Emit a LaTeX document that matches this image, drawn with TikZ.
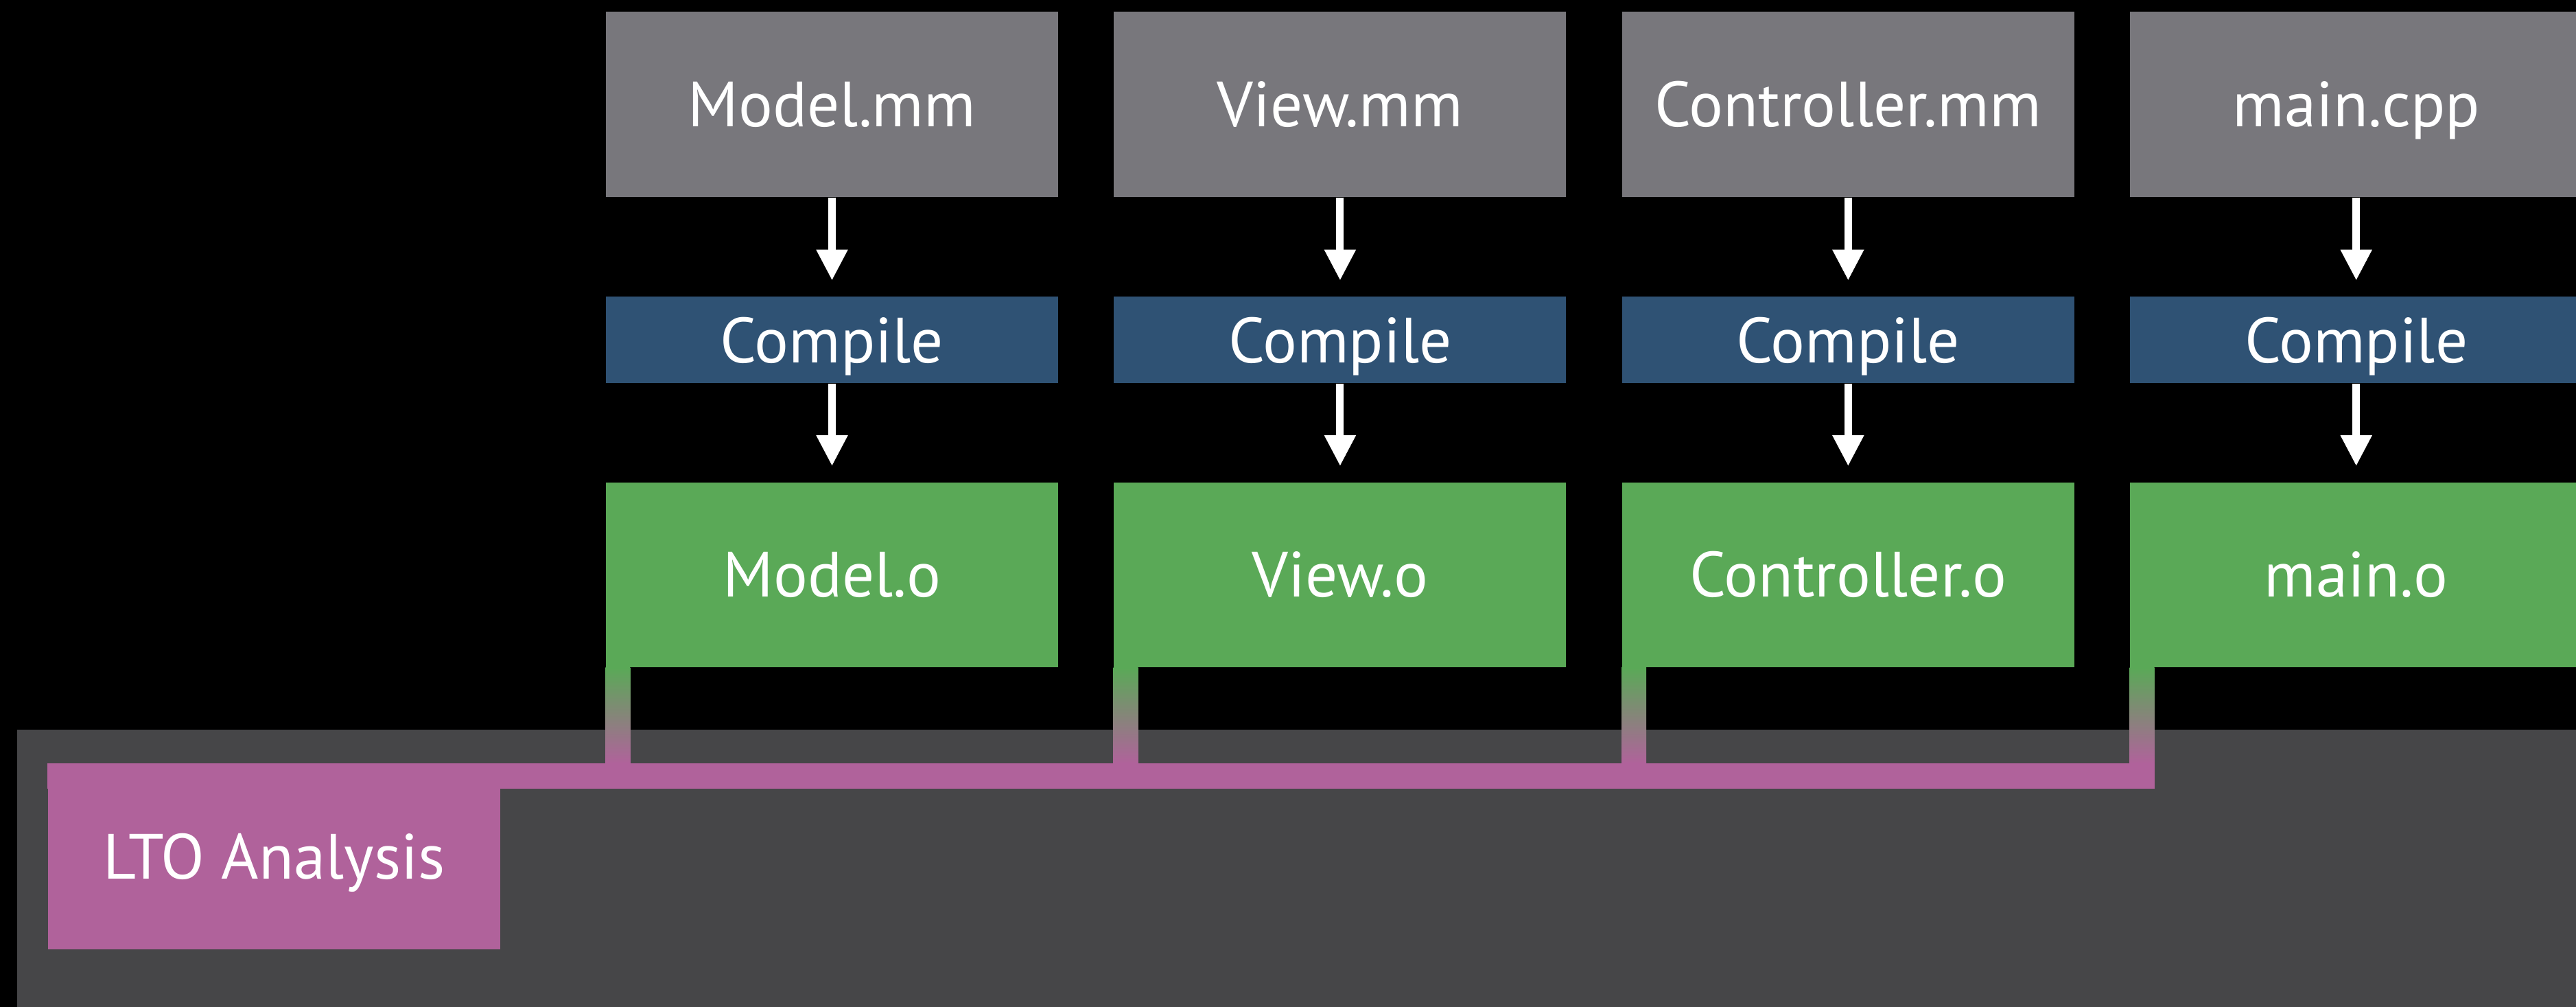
\documentclass[tikz,border=0pt]{standalone}
\usepackage{fontspec}
\setmainfont{PT Sans}
\usepackage{tikz}
\usetikzlibrary{arrows.meta,calc,positioning}

\definecolor{srcgray}{HTML}{78777C}
\definecolor{ccblue}{HTML}{2F5274}
\definecolor{objgreen}{HTML}{5AA957}
\definecolor{ltopink}{HTML}{B0629B}
\definecolor{panelgray}{HTML}{464648}

\begin{document}
\begin{tikzpicture}[
  font=\fontsize{26.5pt}{30pt}\selectfont,
  node distance=1.44cm and 0.8cm,
  box/.style={inner sep=0pt, text=white, minimum width=6.59cm, text height=0.652cm, text depth=0pt},
  src/.style={box, fill=srcgray, minimum height=2.70cm},
  cc/.style={box, fill=ccblue, minimum height=1.26cm},
  obj/.style={box, fill=objgreen, minimum height=2.69cm},
  lto/.style={box, fill=ltopink, minimum height=2.70cm},
  arrow/.style={-{Triangle[width=4.3mm, length=4.5mm]}, line width=1.1mm, white, shorten >=2.3mm},
  link/.style={top color=objgreen, bottom color=ltopink}
]
\clip (0,0) rectangle (37.54,-14.67);
\fill[black] (0,0) rectangle (37.54,-14.67);
\fill[panelgray] (0.25,-10.63) rectangle (37.54,-14.67);

\node[src] (modelsrc) at (12.125,-1.52) {Model.mm};
\node[src, right=of modelsrc] (viewsrc) {View.mm};
\node[src, right=of viewsrc] (ctrlsrc) {Controller.mm};
\node[src, right=of ctrlsrc] (mainsrc) {main.cpp};

\node[cc, below=of modelsrc] (modelcc) {Compile};
\node[cc, below=of viewsrc] (viewcc) {Compile};
\node[cc, below=of ctrlsrc] (ctrlcc) {Compile};
\node[cc, below=of mainsrc] (maincc) {Compile};

\node[obj, below=1.43cm of modelcc] (modelobj) {Model.o};
\node[obj, below=1.43cm of viewcc] (viewobj) {View.o};
\node[obj, below=1.43cm of ctrlcc] (ctrlobj) {Controller.o};
\node[obj, below=1.43cm of maincc] (mainobj) {main.o};

\node[lto] (analysis) at (3.995,-12.48) {LTO Analysis};

\draw[arrow] (modelsrc) -- (modelcc);
\draw[arrow] (viewsrc) -- (viewcc);
\draw[arrow] (ctrlsrc) -- (ctrlcc);
\draw[arrow] (mainsrc) -- (maincc);
\draw[arrow] (modelcc) -- (modelobj);
\draw[arrow] (viewcc) -- (viewobj);
\draw[arrow] (ctrlcc) -- (ctrlobj);
\draw[arrow] (maincc) -- (mainobj);

% objects feed the LTO bar
\shade[link] (modelobj.south west) rectangle ($(modelobj.south west |- analysis.north)+(0.36,0)$);
\shade[link] (viewobj.south west) rectangle ($(viewobj.south west |- analysis.north)+(0.36,0)$);
\shade[link] (ctrlobj.south west) rectangle ($(ctrlobj.south west |- analysis.north)+(0.36,0)$);
\shade[link] (mainobj.south west) rectangle ($(mainobj.south west |- analysis.north)+(0.36,0)$);
\fill[ltopink] (analysis.north west) rectangle ($(mainobj.south west |- analysis.north)+(0.36,-0.37)$);
\end{tikzpicture}
\end{document}
